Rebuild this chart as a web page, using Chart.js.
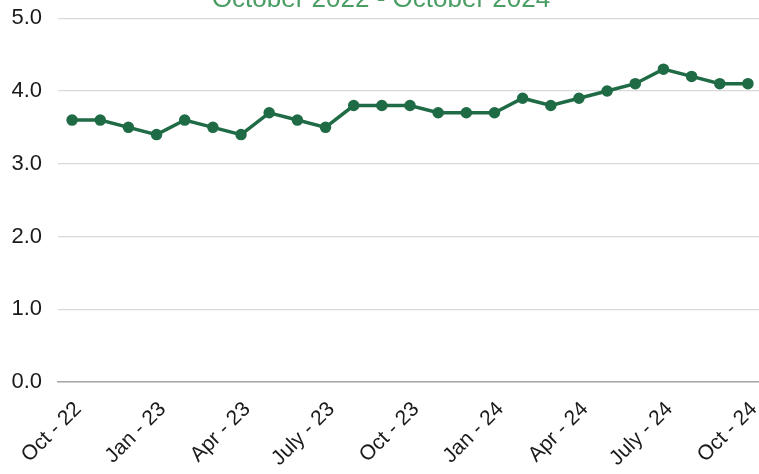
<!DOCTYPE html>
<html>
<head>
  <title>Monthly Rate</title>
  <script src="https://cdn.jsdelivr.net/npm/chart.js"></script>
  <style>
    body { margin: 0; background: #fff; overflow: hidden; }
    #wrap { width: 762px; height: 474px; }
  </style>
</head>
<body>
  <div id="wrap"><canvas id="rateChart"></canvas></div>

  <script>
    const months = [
      'Oct - 22', 'Nov - 22', 'Dec - 22',
      'Jan - 23', 'Feb - 23', 'Mar - 23',
      'Apr - 23', 'May - 23', 'June - 23',
      'July - 23', 'Aug - 23', 'Sep - 23',
      'Oct - 23', 'Nov - 23', 'Dec - 23',
      'Jan - 24', 'Feb - 24', 'Mar - 24',
      'Apr - 24', 'May - 24', 'June - 24',
      'July - 24', 'Aug - 24', 'Sep - 24',
      'Oct - 24'
    ];
    const rates = [
      3.6, 3.6, 3.5, 3.4, 3.6, 3.5, 3.4, 3.7, 3.6, 3.5, 3.8, 3.8, 3.8,
      3.7, 3.7, 3.7, 3.9, 3.8, 3.9, 4.0, 4.1, 4.3, 4.2, 4.1, 4.1
    ];
    const yTicks = [0, 1, 2, 3, 4, 5];

    const font = "'Liberation Sans', Arial, sans-serif";

    const ctx = document.getElementById('rateChart').getContext('2d');
    new Chart(ctx, {
      type: 'line',
      data: {
        labels: months,
        datasets: [{
          data: rates,
          borderColor: '#1f6b45',
          backgroundColor: '#1f6b45',
          borderWidth: 3.5,
          pointRadius: 4,
          pointHoverRadius: 4,
          tension: 0,
          clip: false
        }]
      },
      options: {
        responsive: true,
        maintainAspectRatio: false,
        animation: false,
        layout: {
          autoPadding: false,
          padding: { top: -16, right: 0, left: 0, bottom: 0 }
        },
        plugins: {
          legend: { display: false },
          tooltip: { enabled: false },
          title: {
            display: true,
            text: 'October 2022 - October 2024',
            color: '#4a9e64',
            font: { family: font, size: 26, weight: 'normal', lineHeight: 1.2 },
            padding: { top: 0, bottom: 3 }
          }
        },
        scales: {
          x: {
            offset: true,
            grid: { display: false },
            border: { color: '#a6a6a6', width: 1.5 },
            ticks: {
              color: '#1a1a1a',
              font: { family: font, size: 21 },
              minRotation: 45,
              maxRotation: 45,
              autoSkip: false,
              padding: 7,
              labelOffset: 6,
              callback: (v, i) => (i % 3 === 0 ? months[i] : '')
            },
            afterFit: s => {
              s.height = 92;
              s.paddingLeft = -10;
              s.paddingRight = -10;
            }
          },
          y: {
            min: 0,
            max: 5,
            afterBuildTicks: s => { s.ticks = yTicks.map(v => ({ value: v })); },
            grid: { color: '#d9d9d9', drawTicks: false, lineWidth: 1.2 },
            border: { display: false },
            ticks: {
              color: '#1a1a1a',
              font: { family: font, size: 22 },
              padding: 16,
              callback: v => v.toFixed(1)
            },
            afterFit: s => {
              s.width = 58;
              s.paddingTop = 0;
              s.paddingBottom = 0;
            }
          }
        }
      }
    });
  </script>
</body>
</html>
